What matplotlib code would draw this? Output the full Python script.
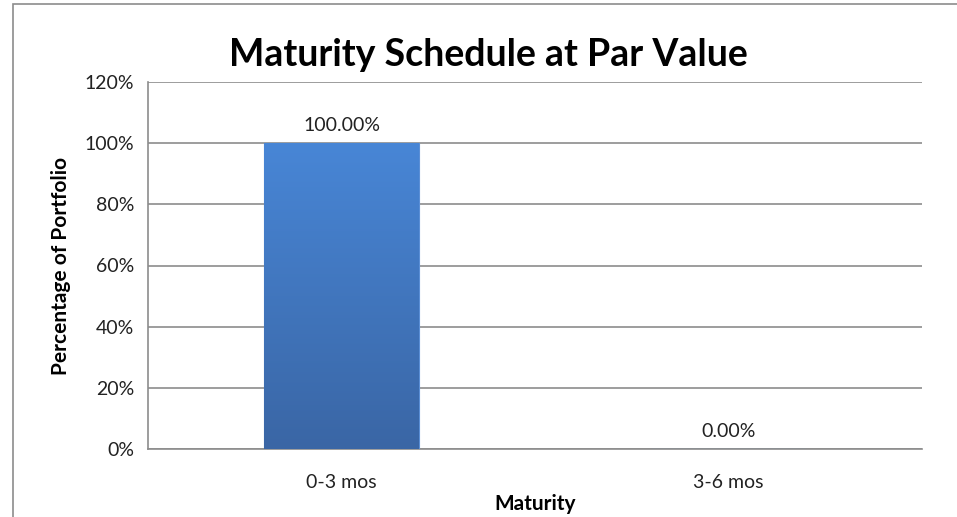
import matplotlib.pyplot as plt
import numpy as np
from matplotlib.patches import Rectangle
from matplotlib.colors import LinearSegmentedColormap

categories = ["0-3 mos", "3-6 mos"]
values = [100.0, 0.0]
bar_labels = ["100.00%", "0.00%"]
yticks = [0, 20, 40, 60, 80, 100, 120]

plt.rcParams["font.family"] = ["Lato", "DejaVu Sans"]

fig = plt.figure(figsize=(9.57, 5.17), dpi=100)
ax = fig.add_axes([148 / 957, 1 - 449 / 517, 774 / 957, 367 / 517])

x = np.arange(len(categories))
bars = ax.bar(x, values, width=0.40, color="#3F7BC9", edgecolor="#5B8FD6",
              linewidth=0.8, zorder=3)

# vertical gradient on the bars, lighter at the top
grad = np.linspace(0, 1, 256).reshape(-1, 1)
cmap = LinearSegmentedColormap.from_list("bar", ["#3A66A5", "#4886D6"])
for b in bars:
    if b.get_height() <= 0:
        continue
    x0, w, h = b.get_x(), b.get_width(), b.get_height()
    im = ax.imshow(grad, extent=[x0, x0 + w, 0, h], origin="lower",
                   cmap=cmap, aspect="auto", zorder=3.5)
    im.set_clip_path(b)

for xi, v, lab in zip(x, values, bar_labels):
    ax.text(xi, v + 3, lab, ha="center", va="bottom", fontsize=14, color="#222222")

ax.set_xlim(-0.5, 1.5)
ax.set_ylim(0, 120)
ax.set_yticks(yticks)
ax.set_yticklabels([f"{t}%" for t in yticks], fontsize=14)
ax.set_xticks(x)
ax.set_xticklabels(categories, fontsize=14)
ax.tick_params(axis="both", length=0, pad=10, colors="#222222")
ax.tick_params(axis="x", pad=18)

ax.yaxis.grid(True, color="#8C8C8C", linewidth=1.2, zorder=0)
ax.set_axisbelow(True)
for s in ["top", "right"]:
    ax.spines[s].set_visible(False)
for s in ["left", "bottom"]:
    ax.spines[s].set_color("#8C8C8C")
    ax.spines[s].set_linewidth(1.2)

ax.set_xlabel("Maturity", fontsize=15, fontweight="bold", labelpad=2)
ax.set_ylabel("Percentage of Portfolio", fontsize=15, fontweight="bold", labelpad=10)
fig.text(488 / 957, 1 - 55 / 517, "Maturity Schedule at Par Value",
         ha="center", va="center", fontsize=27, fontweight="bold")

# chart frame
fig.patches.append(Rectangle((13 / 957, -0.01), 1.0, 1 - 4 / 517 + 0.01,
                             transform=fig.transFigure, fill=False,
                             edgecolor="#8C8C8C", linewidth=1.2))

fig.savefig("out.png", dpi=100)
